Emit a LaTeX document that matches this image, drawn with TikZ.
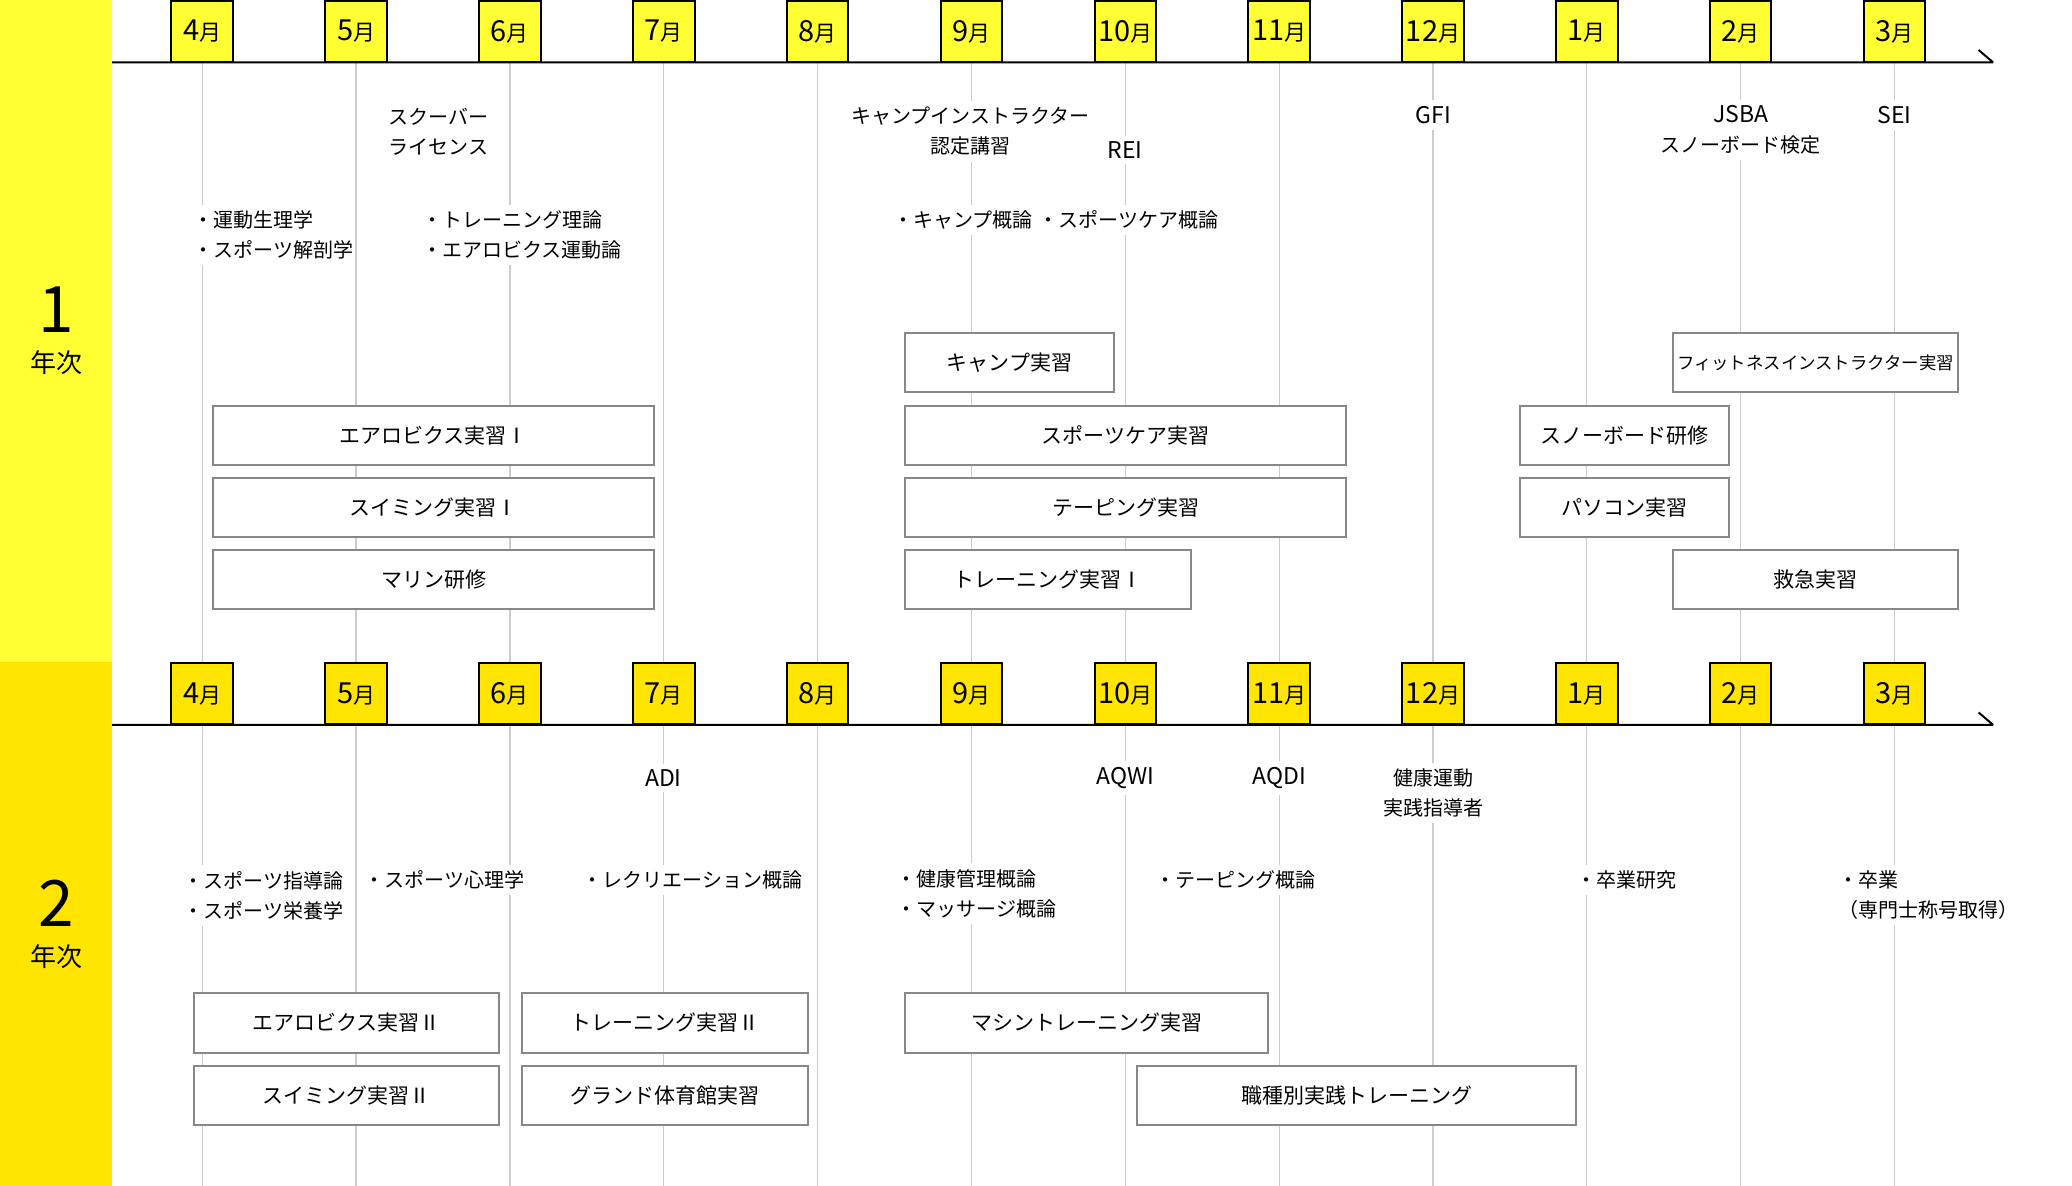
\documentclass[tikz,border=0pt]{standalone}
\usepackage{fontspec}
\setmainfont{Noto Sans CJK JP}
\definecolor{yA}{HTML}{FFFF33}
\definecolor{yB}{HTML}{FFE500}
\definecolor{gline}{HTML}{CCCCCC}
\definecolor{bline}{HTML}{888888}
\newcommand{\mlab}[1]{\raisebox{-1pt}{{\fontsize{14.5}{14}\selectfont #1}{\fontsize{11}{11}\selectfont 月}}}
\newcommand{\cbx}[6]{\node[cbox, minimum width={(#4-#2)*0.5pt}, minimum height={(#5-#3)*0.5pt}] (#1) at ({(#2+#4)/2},{(#3+#5)/2}) {#6};}
\tikzset{
  mon/.style={draw=black, line width=1pt, minimum width=30.75pt, minimum height=30.5pt, inner sep=0pt},
  gridl/.style={draw=gline, line width=0.6pt},
  axisl/.style={draw=black, line width=1pt, line join=bevel},
  cbox/.style={draw=bline, fill=white, line width=0.8pt, inner sep=0pt, font=\fontsize{10.5}{12}\selectfont},
  note/.style={fill=white, inner xsep=1pt, inner ysep=3pt, align=left, font=\fontsize{10}{15}\selectfont},
  notec/.style={note, align=center},
  latin/.style={notec, font=\fontsize{11.5}{15}\selectfont},
  yearnum/.style={inner sep=0pt, font=\fontsize{32}{32}\selectfont},
  yeartxt/.style={inner sep=0pt, font=\fontsize{13}{13}\selectfont},
}
\begin{document}
\begin{tikzpicture}[x=0.5pt, y=-0.5pt]
\useasboundingbox (0,0) rectangle (2072,1186);
\fill[white] (0,0) rectangle (2072,1186);
% year bands
\fill[yA] (0,0) rectangle (112,662.5);
\fill[yB] (0,662.5) rectangle (112,1186);
\node[yearnum] (y1n) at (56,310) {1};
\node[yeartxt] (y1t) at (57,363) {年次};
\node[yearnum] (y2n) at (56,903) {2};
\node[yeartxt] (y2t) at (57,957) {年次};
% months, grid lines
\foreach \i/\m in {0/4,1/5,2/6,3/7,4/8,5/9,6/10,7/11,8/12,9/1,10/2,11/3} {
  \pgfmathsetmacro\xx{202.2+153.85*\i}
  \node[mon, fill=yA] (mA\i) at (\xx,31.5) {\mlab{\m}};
  \node[mon, fill=yB] (mB\i) at (\xx,694) {\mlab{\m}};
  \draw[gridl] (mA\i.south) -- (mA\i.south |- 0,662.5);
  \draw[gridl] (mB\i.south) -- (mB\i.south |- 0,1186);
}
% axes
\coordinate (axA0) at (112,62.3);
\coordinate (axA1) at (1993,62.3);
\coordinate (axA2) at (1978.6,50);
\coordinate (axB0) at (112,724.8);
\coordinate (axB1) at (1993,724.8);
\coordinate (axB2) at (1978.6,712.5);
\draw[axisl] (axA0) -- (axA1) -- (axA2);
\draw[axisl] (axB0) -- (axB1) -- (axB2);
% year 1 notes
\node[note, anchor=west] (n2) at (386,131.5) {スクーバー\\ライセンス};
\node[notec] (n6) at (970.5,131.5) {キャンプインストラクター\\認定講習};
\node[latin] (n7) at (1125,150) {REI};
\node[latin] (n8) at (1433.4,115) {GFI};
\node[notec] (n9) at (1740.7,130) {{\fontsize{11.5}{15}\selectfont JSBA}\\スノーボード検定};
\node[latin] (n10) at (1894.6,115) {SEI};
\node[note, anchor=west] (n1) at (191,235) {・運動生理学\\・スポーツ解剖学};
\node[note, anchor=west] (n3) at (420,235) {・トレーニング理論\\・エアロビクス運動論};
\node[note, anchor=west] (n4) at (891,220) {・キャンプ概論};
\node[note, anchor=west] (n5) at (1036,220) {・スポーツケア概論};
% year 1 boxes
\cbx{b1}{213}{406}{654}{465}{エアロビクス実習Ⅰ}
\cbx{b2}{213}{478}{654}{537}{スイミング実習Ⅰ}
\cbx{b3}{213}{550}{654}{609}{マリン研修}
\cbx{b4}{905}{333}{1114}{392}{キャンプ実習}
\cbx{b5}{905}{406}{1346}{465}{スポーツケア実習}
\cbx{b6}{905}{478}{1346}{537}{テーピング実習}
\cbx{b7}{905}{550}{1191}{609}{トレーニング実習Ⅰ}
\cbx{b8}{1673}{333}{1958}{392}{{\fontsize{8.7}{10}\selectfont フィットネスインストラクター実習}}
\cbx{b9}{1520}{406}{1729}{465}{スノーボード研修}
\cbx{b10}{1520}{478}{1729}{537}{パソコン実習}
\cbx{b11}{1673}{550}{1958}{609}{救急実習}
% year 2 notes
\node[latin] (p1) at (663.4,778) {ADI};
\node[latin] (p2) at (1125.4,778) {AQWI};
\node[latin] (p3) at (1279.5,778) {AQDI};
\node[notec] (p4) at (1433.4,793) {健康運動\\実践指導者};
\node[note, anchor=west] (p5) at (181.5,895.5) {・スポーツ指導論\\・スポーツ栄養学};
\node[note, anchor=west] (p6) at (362,880) {・スポーツ心理学};
\node[note, anchor=west] (p7) at (580.5,880) {・レクリエーション概論};
\node[note, anchor=west] (p8) at (894,893.5) {・健康管理概論\\・マッサージ概論};
\node[note, anchor=west] (p9) at (1153,880) {・テーピング概論};
\node[note, anchor=west] (p10) at (1574,880) {・卒業研究};
\node[note, anchor=west] (p11) at (1836,895) {・卒業\\（専門士称号取得）};
% year 2 boxes
\cbx{c1}{194}{993}{499}{1053}{エアロビクス実習Ⅱ}
\cbx{c2}{194}{1066}{499}{1125}{スイミング実習Ⅱ}
\cbx{c3}{522}{993}{808}{1053}{トレーニング実習Ⅱ}
\cbx{c4}{522}{1066}{808}{1125}{グランド体育館実習}
\cbx{c5}{905}{993}{1268}{1053}{マシントレーニング実習}
\cbx{c6}{1137}{1066}{1576}{1125}{職種別実践トレーニング}
\end{tikzpicture}
\end{document}
